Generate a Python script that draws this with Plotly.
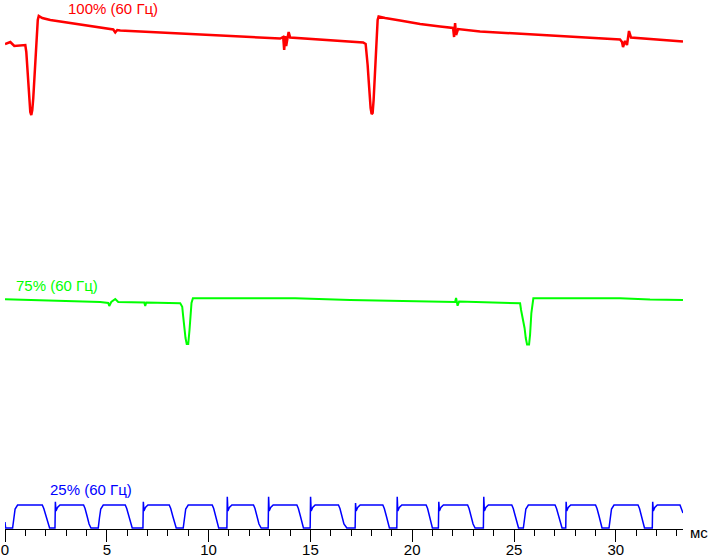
import plotly.graph_objects as go

# ---- data (time in ms, brightness in relative units) ----
red_t = [0.000, 0.260, 0.457, 0.997, 1.046, 1.095, 1.144, 1.193, 1.242, 1.291, 1.340, 1.389, 1.487,
         1.561, 1.610, 1.659, 1.831, 2.224, 3.058, 3.844, 4.678, 5.169, 5.317, 5.415, 5.513, 5.660,
         7.133, 8.262, 9.588, 11.552, 13.516, 13.663, 13.712, 13.761, 13.810, 13.859, 13.932, 14.006,
         15.970, 17.590, 17.713, 17.762, 17.811, 17.860, 17.909, 17.958, 18.007, 18.056, 18.105,
         18.154, 18.203, 18.252, 18.302, 18.351, 18.670, 19.406, 20.388, 21.370, 22.008, 22.057,
         22.106, 22.155, 22.253, 23.333, 25.788, 28.243, 30.207, 30.305, 30.354, 30.452, 30.550,
         30.648, 30.746, 33.299]
red_y = [97.0, 97.4, 96.6, 96.8, 95.4, 92.8, 88.8, 85.8, 83.4, 82.8, 83.8, 86.2, 93.8,
         98.8, 101.8, 102.6, 102.2, 101.8, 101.3, 100.8, 100.3, 99.9, 99.9, 99.3, 99.8, 99.7,
         99.4, 99.1, 98.9, 98.5, 98.1, 98.4, 95.8, 98.6, 96.6, 97.8, 99.4, 98.3,
         97.7, 97.3, 97.0, 95.4, 92.8, 89.8, 86.2, 84.2, 83.0, 83.2, 85.8,
         89.8, 94.8, 98.8, 101.8, 102.5, 102.2, 101.7, 101.0, 100.5, 100.2, 98.4,
         101.2, 98.8, 100.0, 99.5, 98.9, 98.3, 97.9, 97.4, 96.4, 97.6, 96.8,
         99.6, 98.3, 97.5]

green_t = [0.000, 1.242, 3.058, 4.678, 5.071, 5.120, 5.219, 5.415, 5.562, 6.298, 6.838, 6.887, 6.937,
           8.606, 8.704, 8.753, 8.802, 8.866, 8.925, 8.999, 9.062, 9.111, 9.160, 9.229, 14.251,
           16.951, 20.535, 22.106, 22.155, 22.229, 22.303, 24.316, 25.298, 25.347, 25.445, 25.518,
           25.577, 25.641, 25.739, 25.788, 25.852, 25.921, 25.950, 30.207, 31.680, 33.299]
green_y = [45.94, 45.8, 45.6, 45.4, 45.2, 44.6, 45.4, 46.0, 45.4, 45.4, 45.3, 44.6, 45.3,
           45.14, 44.46, 42.46, 40.2, 38.2, 37.0, 37.0, 39.8, 42.2, 45.2, 46.14, 46.14,
           45.8, 45.46, 45.4, 46.2, 44.66, 45.5, 45.2, 45.14, 43.8, 41.8, 40.2,
           38.2, 36.9, 36.9, 38.8, 43.2, 45.2, 46.14, 46.14, 45.9, 45.8]

blue_t = [0.000, 0.030, 0.373, 0.432, 0.496, 0.619, 1.831, 1.905, 2.003, 2.101, 2.190,
          2.455, 2.474, 2.504, 2.577, 2.700, 3.859, 3.932, 4.030, 4.129, 4.222,
          4.580, 4.639, 4.703, 4.826, 5.906, 5.979, 6.078, 6.176, 6.249,
          6.775, 6.794, 6.824, 6.897, 7.020, 8.066, 8.140, 8.238, 8.336, 8.409,
          8.753, 8.812, 8.876, 8.999, 10.177, 10.250, 10.349, 10.447, 10.496,
          10.898, 10.918, 10.948, 11.021, 11.144, 12.204, 12.278, 12.376, 12.474, 12.582,
          12.926, 12.946, 12.975, 13.049, 13.171, 14.335, 14.409, 14.507, 14.605, 14.659,
          14.988, 15.008, 15.037, 15.111, 15.233, 16.377, 16.451, 16.549, 16.647, 16.789,
          17.197, 17.217, 17.246, 17.320, 17.442, 18.557, 18.630, 18.729, 18.827, 18.881,
          19.244, 19.264, 19.293, 19.367, 19.490, 20.683, 20.756, 20.854, 20.953, 20.992,
          21.286, 21.306, 21.336, 21.409, 21.532, 22.720, 22.793, 22.892, 22.990, 23.088,
          23.495, 23.515, 23.545, 23.618, 23.741, 24.890, 24.963, 25.062, 25.160, 25.223,
          25.459, 25.518, 25.582, 25.705, 27.015, 27.089, 27.187, 27.285, 27.359,
          27.541, 27.560, 27.590, 27.663, 27.786, 29.004, 29.077, 29.176, 29.274, 29.323,
          29.666, 29.725, 29.789, 29.912, 31.090, 31.164, 31.262, 31.360, 31.409,
          31.792, 31.812, 31.841, 31.915, 32.037, 33.152, 33.299]
blue_y = [1.4, 0.2, 0.2, 2.2, 4.0, 4.8, 4.8, 4.1, 2.6, 1.0, 0.2,
          0.2, 5.46, 3.6, 4.3, 4.8, 4.8, 4.1, 2.6, 1.0, 0.2,
          0.2, 2.2, 4.0, 4.8, 4.8, 4.1, 2.6, 1.0, 0.2,
          0.2, 5.46, 3.6, 4.3, 4.8, 4.8, 4.1, 2.6, 1.0, 0.2,
          0.2, 2.2, 4.0, 4.8, 4.8, 4.1, 2.6, 1.0, 0.2,
          0.2, 6.46, 3.6, 4.3, 4.8, 4.8, 4.1, 2.6, 1.0, 0.2,
          0.2, 6.46, 3.6, 4.3, 4.8, 4.8, 4.1, 2.6, 1.0, 0.2,
          0.2, 6.46, 3.6, 4.3, 4.8, 4.8, 4.1, 2.6, 1.0, 0.2,
          0.2, 5.2, 3.6, 4.3, 4.8, 4.8, 4.1, 2.6, 1.0, 0.2,
          0.2, 6.46, 3.6, 4.3, 4.8, 4.8, 4.1, 2.6, 1.0, 0.2,
          0.2, 5.46, 3.6, 4.3, 4.8, 4.8, 4.1, 2.6, 1.0, 0.2,
          0.2, 6.46, 3.6, 4.3, 4.8, 4.8, 4.1, 2.6, 1.0, 0.2,
          0.2, 2.2, 4.0, 4.8, 4.8, 4.1, 2.6, 1.0, 0.2,
          0.2, 5.46, 3.6, 4.3, 4.8, 4.8, 4.1, 2.6, 1.0, 0.2,
          0.2, 2.2, 4.0, 4.8, 4.8, 4.1, 2.6, 1.0, 0.2,
          0.2, 5.46, 3.6, 4.3, 4.8, 4.8, 3.2]

series_names = ["100% (60 Гц)", "75% (60 Гц)", "25% (60 Гц)"]
series_colors = ["#ff0000", "#00ff00", "#0000ff"]
label_x = [5.29, 2.57, 4.21]
label_y = [104.2, 48.7, 8.0]

x_unit = "мс"
x_range = [0, 33.3]
y_range = [0, 105.8]

FONT = "Liberation Sans, Arial, sans-serif"

fig = go.Figure()
for t, y, name, col, w in [(red_t, red_y, series_names[0], series_colors[0], 2.5),
                           (green_t, green_y, series_names[1], series_colors[1], 2.0),
                           (blue_t, blue_y, series_names[2], series_colors[2], 1.5)]:
    fig.add_trace(go.Scatter(x=t, y=y, mode="lines", name=name,
                             line=dict(color=col, width=w), showlegend=False,
                             cliponaxis=False, hoverinfo="skip"))

for name, col, lx, ly in zip(series_names, series_colors, label_x, label_y):
    fig.add_annotation(x=lx, y=ly, xref="x", yref="y", text=name, showarrow=False,
                       font=dict(family=FONT, size=15, color=col),
                       xanchor="center", yanchor="middle")

fig.add_annotation(x=1, y=0, xref="paper", yref="paper", text=x_unit, showarrow=False,
                   xanchor="left", yanchor="middle", xshift=5, yshift=-3,
                   font=dict(family=FONT, size=15, color="black"))

fig.update_layout(
    width=711, height=557,
    margin=dict(l=5, r=28, t=0, b=28, autoexpand=False),
    paper_bgcolor="white", plot_bgcolor="white",
    font=dict(family=FONT, size=15, color="black"),
    xaxis=dict(range=x_range, showgrid=False, zeroline=False, showline=True,
               automargin=False,
               linecolor="black", linewidth=1, ticks="outside", ticklen=12,
               tickcolor="black", tickwidth=1, tick0=0, dtick=5,
               ticklabelstandoff=-5,
               tickfont=dict(family=FONT, size=15, color="black"),
               minor=dict(ticks="outside", ticklen=6, dtick=1, tick0=0,
                          tickcolor="black", tickwidth=1, showgrid=False)),
    yaxis=dict(range=y_range, visible=False, showgrid=False, zeroline=False,
               automargin=False),
)

fig.write_html("out.html", config={"displayModeBar": False},
               post_script="document.body.style.margin='0';document.body.style.padding='0';"
                           "document.body.style.overflow='hidden';")
